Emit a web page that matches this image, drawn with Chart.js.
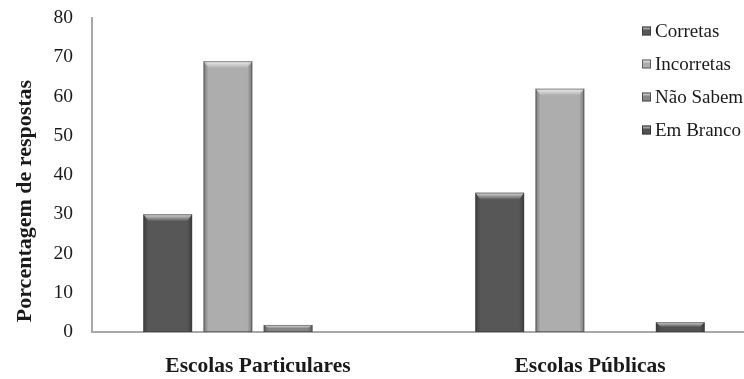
<!DOCTYPE html>
<html>
<head>
<meta charset="utf-8">
<script src="https://cdn.jsdelivr.net/npm/chart.js@4/dist/chart.umd.min.js"></script>
<style>
  html, body { margin: 0; padding: 0; background: #fff; overflow: hidden; }
  #wrap { width: 756px; height: 379px; }
</style>
</head>
<body>
<div id="wrap"><canvas id="c" width="756" height="379"></canvas></div>
<script>
// Respostas por tipo de escola (%)
const categories = ['Escolas Particulares', 'Escolas Públicas'];
const seriesNames = ['Corretas', 'Incorretas', 'Não Sabem', 'Em Branco'];
const corretas   = [30, 35.5];
const incorretas = [69, 62];
const naoSabem   = [1.8, 0];
const emBranco   = [0, 2.5];
const yTicks     = [0, 10, 20, 30, 40, 50, 60, 70, 80];
const yTitle     = 'Porcentagem de respostas';

const seriesColors = ['#575757', '#adadad', '#858585', '#525252'];
const SERIF = "'Liberation Serif', 'Times New Roman', serif";
const TEXT = '#1a1a1a';

// Bevelled look for each bar: dark side edges, light chamfer on top, thin outline
const bevelPlugin = {
  id: 'bevel',
  afterDatasetsDraw(chart) {
    const ctx = chart.ctx;
    chart.data.datasets.forEach((ds, di) => {
      const meta = chart.getDatasetMeta(di);
      meta.data.forEach(bar => {
        const { x, y, base, width } = bar.getProps(['x', 'y', 'base', 'width'], true);
        const h = base - y;
        if (h <= 0.5) return;
        const l = x - width / 2, r = x + width / 2;
        const e = Math.min(5, width / 6);
        const t = Math.min(7, h / 2);
        ctx.save();
        // left edge
        let g = ctx.createLinearGradient(l, 0, l + e, 0);
        g.addColorStop(0, 'rgba(0,0,0,0.30)');
        g.addColorStop(1, 'rgba(0,0,0,0)');
        ctx.fillStyle = g;
        ctx.fillRect(l, y, e, h);
        // right edge
        g = ctx.createLinearGradient(r - e, 0, r, 0);
        g.addColorStop(0, 'rgba(0,0,0,0)');
        g.addColorStop(1, 'rgba(0,0,0,0.30)');
        ctx.fillStyle = g;
        ctx.fillRect(r - e, y, e, h);
        // top chamfer
        g = ctx.createLinearGradient(0, y, 0, y + t);
        g.addColorStop(0, 'rgba(255,255,255,0.8)');
        g.addColorStop(1, 'rgba(255,255,255,0)');
        ctx.fillStyle = g;
        ctx.beginPath();
        ctx.moveTo(l, y);
        ctx.lineTo(r, y);
        ctx.lineTo(r - e, y + t);
        ctx.lineTo(l + e, y + t);
        ctx.closePath();
        ctx.fill();
        // outline
        ctx.strokeStyle = 'rgba(60,60,60,0.55)';
        ctx.lineWidth = 1;
        ctx.strokeRect(l + 0.5, y + 0.5, width - 1, h - 1);
        ctx.restore();
      });
    });
  }
};

// Legend drawn inside the plot, top right
const legendPlugin = {
  id: 'innerLegend',
  afterDraw(chart) {
    const ctx = chart.ctx;
    const x0 = 642, y0 = 31, step = 33, s = 9;
    ctx.save();
    ctx.font = '19px ' + SERIF;
    ctx.textBaseline = 'middle';
    ctx.textAlign = 'left';
    chart.data.datasets.forEach((ds, i) => {
      const yy = y0 + i * step;
      ctx.fillStyle = ds.backgroundColor;
      ctx.fillRect(x0, yy - s / 2, s, s);
      ctx.strokeStyle = 'rgba(40,40,40,0.6)';
      ctx.lineWidth = 1;
      ctx.strokeRect(x0 + 0.5, yy - s / 2 + 0.5, s - 1, s - 1);
      ctx.fillStyle = 'rgba(255,255,255,0.45)';
      ctx.fillRect(x0 + 1, yy - s / 2 + 1, s - 2, 2);
      ctx.fillStyle = TEXT;
      ctx.fillText(ds.label, x0 + s + 4, yy + 1);
    });
    ctx.restore();
  }
};

// Vertical axis title, placed slightly below the plot's middle
const yTitlePlugin = {
  id: 'yTitle',
  afterDraw(chart) {
    const ctx = chart.ctx;
    ctx.save();
    ctx.translate(25, 201);
    ctx.rotate(-Math.PI / 2);
    ctx.font = 'bold 22px ' + SERIF;
    ctx.fillStyle = TEXT;
    ctx.textAlign = 'center';
    ctx.textBaseline = 'middle';
    ctx.fillText(yTitle, 0, 0);
    ctx.restore();
  }
};

const seriesData = [corretas, incorretas, naoSabem, emBranco];

new Chart(document.getElementById('c'), {
  type: 'bar',
  data: {
    labels: categories,
    datasets: seriesNames.map((name, i) => ({
      label: name,
      data: seriesData[i],
      backgroundColor: seriesColors[i],
      borderWidth: 0,
      categoryPercentage: 0.725,
      barPercentage: 0.81
    }))
  },
  options: {
    responsive: false,
    animation: false,
    layout: { padding: { top: 18, right: 0, bottom: 0, left: 0 } },
    plugins: { legend: { display: false }, tooltip: { enabled: false } },
    scales: {
      x: {
        grid: { display: false, drawTicks: false },
        border: { display: true, color: '#a8a8a8', width: 2 },
        ticks: { color: TEXT, padding: 22, font: { family: SERIF, size: 21.5, weight: 'bold' } },
        afterFit(s) { s.height = 47; }
      },
      y: {
        min: 0, max: 80,
        afterBuildTicks(s) { s.ticks = yTicks.map(v => ({ value: v })); },
        grid: { display: false, drawTicks: false },
        border: { display: true, color: '#a8a8a8', width: 2 },
        ticks: { color: TEXT, padding: 19, font: { family: SERIF, size: 19.5 } },
        afterFit(s) { s.width = 92; s.paddingTop = 0; s.paddingBottom = 0; }
      }
    }
  },
  plugins: [bevelPlugin, legendPlugin, yTitlePlugin]
});
</script>
</body>
</html>
